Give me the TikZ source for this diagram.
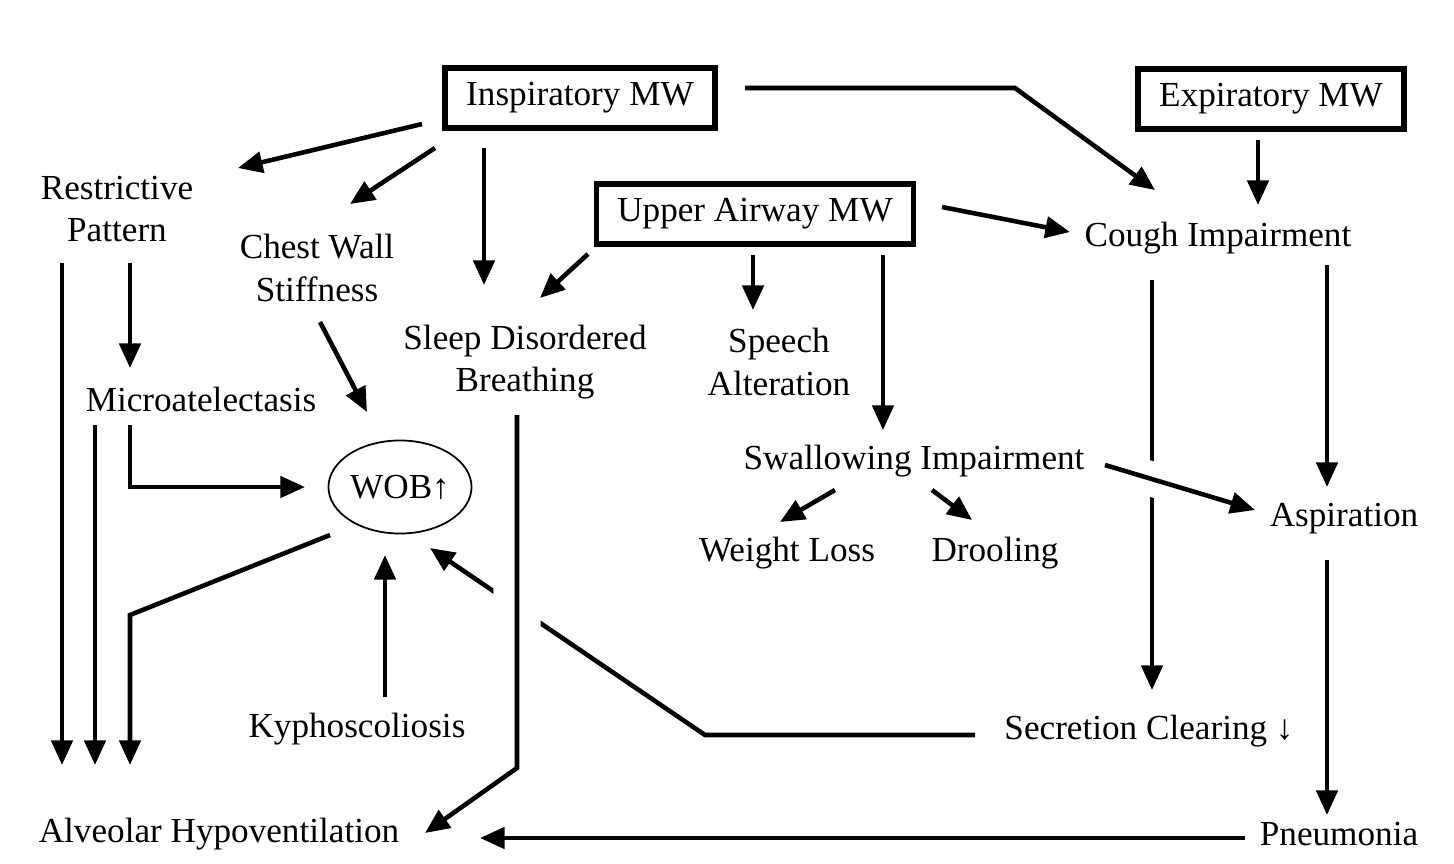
\documentclass[tikz,border=0pt]{standalone}
\usepackage{fontspec}
\setmainfont{Liberation Serif}
\usetikzlibrary{arrows.meta,calc,shapes.geometric}

\begin{document}
\begin{tikzpicture}
            [x=0.01cm,y=-0.01cm,
             every node/.style={font=\fontsize{10}{12}\selectfont,align=center,inner sep=1pt},
             mw/.style={draw,line width=1.5pt,minimum height=0.6cm,inner xsep=6pt},
             link/.style={line width=1.3pt,-{Triangle[length=7pt,width=6pt]}},
             plain/.style={line width=1.3pt}]

            \useasboundingbox (0,0) rectangle (1454,863);

            % muscle weakness boxes
            \node[mw,minimum width=2.65cm] (insp) at (580,98) {Inspiratory MW};
            \node[mw,minimum width=2.58cm] (expi) at (1271,99) {Expiratory MW};
            \node[mw,minimum width=3.15cm] (upper) at (755,214) {Upper Airway MW};

            \node (restr) at (117,209) {Restrictive\\Pattern};
            \node (chest) at (317,268) {Chest Wall\\Stiffness};
            \node (sleep) at (525,362) {Sleep Disordered\\Breathing};
            \node (speech) at (779,362) {Speech\\Alteration};
            \node (micro) at (201,399) {Microatelectasis};
            \node (cough) at (1218,238) {Cough Impairment};
            \node (swallow) at (914,461) {Swallowing Impairment};
            \node (weight) at (787,553) {Weight Loss};
            \node (drool) at (995,553) {Drooling};
            \node (aspir) at (1344,519) {Aspiration};
            \node[draw,ellipse,line width=0.5pt,minimum width=1.43cm,minimum height=0.93cm,inner sep=0] (wob) at (400,487) {WOB↑};
            \node (kypho) at (357,729) {Kyphoscoliosis};
            \node (secret) at (1149,731) {Secretion Clearing ↓};
            \node (alv) at (219,834) {Alveolar Hypoventilation};
            \node (pneu) at (1339,834) {Pneumonia};

            % crossing lines first
            \draw[link] ($(secret)+(-174,4)$) -- ($(secret)+(-444,4)$) -- ($(wob)+(30,61)$);
            \draw[link,preaction={draw=white,line width=0.47cm,arrows=-}] ($(sleep)+(-8,53)$) -- ($(sleep)+(-8,406)$) -- ($(alv)+(206,-1)$);
            \draw[link] ($(cough)+(-66,42)$) -- ($(secret)+(3,-41)$);
            \draw[link,preaction={draw=white,line width=0.35cm,arrows=-}] ($(swallow)+(191,4)$) -- ($(aspir)+(-89,-9)$);

            \draw[link] ($(insp)+(-158,26)$) -- ($(restr)+(121,-41)$);
            \draw[link] ($(insp)+(-145,50)$) -- ($(chest)+(33,-64)$);
            \draw[link] ($(insp)+(-96,50)$) -- ($(sleep)+(-41,-77)$);
            \draw[link] ($(insp)+(165,-10)$) -- ($(insp)+(435,-10)$) -- ($(cough)+(-63,-48)$);
            \draw[link] ($(expi)+(-13,41)$) -- ($(cough)+(40,-33)$);
            \draw[link] ($(upper)+(-167,40)$) -- ($(sleep)+(15,-64)$);
            \draw[link] ($(upper)+(-2,41)$) -- ($(speech)+(-26,-52)$);
            \draw[link] ($(upper)+(128,41)$) -- ($(swallow)+(-31,-31)$);
            \draw[link] ($(upper)+(187,-7)$) -- ($(cough)+(-148,-6)$);
            \draw[link] ($(restr)+(-55,54)$) -- ($(alv)+(-157,-69)$);
            \draw[link] ($(restr)+(13,54)$) -- ($(micro)+(-71,-31)$);
            \draw[link] ($(micro)+(-106,26)$) -- ($(alv)+(-124,-69)$);
            \draw[link] ($(micro)+(-71,26)$) |- ($(wob)+(-95,0)$);
            \draw[link] ($(chest)+(3,54)$) -- ($(wob)+(-33,-75)$);
            \draw[link] ($(wob)+(-70,48)$) -- ($(alv)+(-89,-219)$) -- ($(alv)+(-89,-69)$);
            \draw[link] ($(kypho)+(28,-32)$) -- ($(wob)+(-15,68)$);
            \draw[link] ($(pneu)+(-94,4)$) -- ($(alv)+(261,4)$);
            \draw[link] ($(cough)+(109,27)$) -- ($(aspir)+(-17,-32)$);
            \draw[link] ($(aspir)+(-17,41)$) -- ($(pneu)+(-12,-19)$);
            \draw[link] ($(swallow)+(-79,29)$) -- ($(weight)+(-7,-31)$);
            \draw[link] ($(swallow)+(18,29)$) -- ($(drool)+(-23,-33)$);
          \end{tikzpicture}
\end{document}
